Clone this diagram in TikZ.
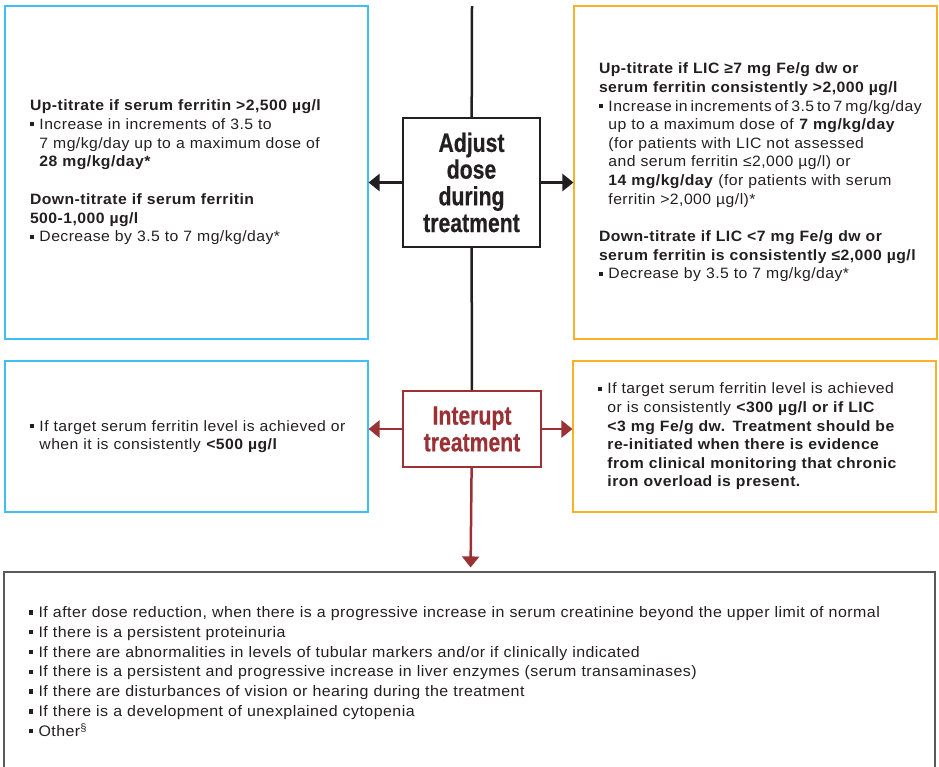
\documentclass[tikz,border=0pt]{standalone}
\usepackage{fontspec}
\setmainfont{Liberation Sans}[FakeStretch=1.05, LetterSpace=3]
\newfontfamily\titfont{Liberation Sans}[FakeStretch=0.8, FakeBold=0.5]
\usetikzlibrary{positioning,arrows.meta}
\definecolor{celeste}{HTML}{3EBFEF}
\definecolor{ambar}{HTML}{F6B327}
\definecolor{granate}{HTML}{9A3134}
\definecolor{tinta}{HTML}{231F20}
\definecolor{gris}{HTML}{58595B}
\newcommand{\cuerpo}{\fontsize{15}{18.6}\selectfont}
\newcommand{\cuad}{\rule[0.2em]{0.28em}{0.28em}\hspace{0.35em}}
\newcommand{\sangria}{\hspace*{0.63em}}

\begin{document}
\begin{tikzpicture}[x=1pt, y=-1pt, >={Triangle[length=11pt, width=17pt]},
      caja/.style={draw, line width=1.1pt, inner xsep=5pt, inner ysep=0pt, align=left,
                   text width=353pt, text=tinta, font=\cuerpo,
                   execute at begin node={\leftskip=20pt}},
      eje/.style={draw, line width=2pt, inner sep=0pt, align=center,
                  font=\titfont\bfseries\fontsize{26.5}{26.7}\selectfont},
      flecha/.style={line width=2.5pt}]
    \useasboundingbox (0,0) rectangle (939,766);
    \clip (0,0) rectangle (939,766);
    % centre column
    \coordinate (arriba) at (472,6);
    \node[eje, draw=tinta, text=tinta, minimum width=137pt, minimum height=129pt] (ajuste) at (471.5,182.5)
      {Adjust\\dose\\during\\treatment};
    \node[eje, draw=granate, text=granate, minimum width=138pt, minimum height=76pt] (interrupcion) at (472,429)
      {Interupt\\treatment};
    % dose boxes
    \node[caja, draw=celeste, minimum height=333pt] (subeL) at (186.5,172.5)
      {\textbf{Up-titrate if serum ferritin >2,500 µg/l}\\
       \cuad Increase in increments of 3.5 to\\
       \sangria 7 mg/kg/day up to a maximum dose of\\
       \sangria\textbf{28 mg/kg/day*}\\[19.5pt]
       \textbf{Down-titrate if serum ferritin}\\
       \textbf{500-1,000 µg/l}\\
       \cuad Decrease by 3.5 to 7 mg/kg/day*};
    \node[caja, draw=ambar, minimum height=333pt] (subeR) at (755.5,172.5)
      {\textbf{Up-titrate if LIC ≥7 mg Fe/g dw or}\\
       \textbf{serum ferritin consistently >2,000 µg/l}\\
       \cuad{\spaceskip=0.2em Increase in increments of 3.5 to 7 mg/kg/day}\\
       \sangria up to a maximum dose of \textbf{7 mg/kg/day}\\
       \sangria (for patients with LIC not assessed\\
       \sangria and serum ferritin ≤2,000 µg/l) or\\
       \sangria\textbf{14 mg/kg/day} (for patients with serum\\
       \sangria ferritin >2,000 µg/l)*\\[19pt]
       \textbf{Down-titrate if LIC <7 mg Fe/g dw or}\\
       \textbf{serum ferritin is consistently ≤2,000 µg/l}\\
       \cuad Decrease by 3.5 to 7 mg/kg/day*};
    % interruption boxes
    \node[caja, draw=celeste, minimum height=151pt] (susL) at (186.5,436.5)
      {\cuad If target serum ferritin level is achieved or\\
       \sangria when it is consistently \textbf{<500 µg/l}};
    \node[caja, draw=ambar, minimum height=151pt] (susR) at (754.5,436.5)
      {\cuad If target serum ferritin level is achieved\\
       \sangria or is consistently \textbf{<300 µg/l or if LIC}\\
       \sangria\textbf{<3 mg Fe/g dw. Treatment should be}\\
       \sangria\textbf{re-initiated when there is evidence}\\
       \sangria\textbf{from clinical monitoring that chronic}\\
       \sangria\textbf{iron overload is present.}};
    % discontinuation box
    \node[caja, draw=gris, text width=921pt, minimum height=199pt,
          font=\fontsize{15.2}{19.8}\selectfont] (fin) at (469.5,671.5)
      {\cuad If after dose reduction, when there is a progressive increase in serum creatinine beyond the upper limit of normal\\
       \cuad If there is a persistent proteinuria\\
       \cuad If there are abnormalities in levels of tubular markers and/or if clinically indicated\\
       \cuad If there is a persistent and progressive increase in liver enzymes (serum transaminases)\\
       \cuad If there are disturbances of vision or hearing during the treatment\\
       \cuad If there is a development of unexplained cytopenia\\
       \cuad Other\textsuperscript{\S}};
    \draw[flecha, tinta] (arriba) -- (ajuste);
    \draw[flecha, tinta] (ajuste) -- (interrupcion);
    \draw[->, flecha, tinta] (ajuste.west) -- (ajuste.west -| subeL.east);
    \draw[->, flecha, tinta] (ajuste.east) -- (ajuste.east -| subeR.west);
    \draw[->, flecha, granate] (interrupcion.west) -- (interrupcion.west -| susL.east);
    \draw[->, flecha, granate] (interrupcion.east) -- (interrupcion.east -| susR.west);
    \draw[->, flecha, granate, shorten >=4pt] (interrupcion) -- (fin);
  \end{tikzpicture}
\end{document}
